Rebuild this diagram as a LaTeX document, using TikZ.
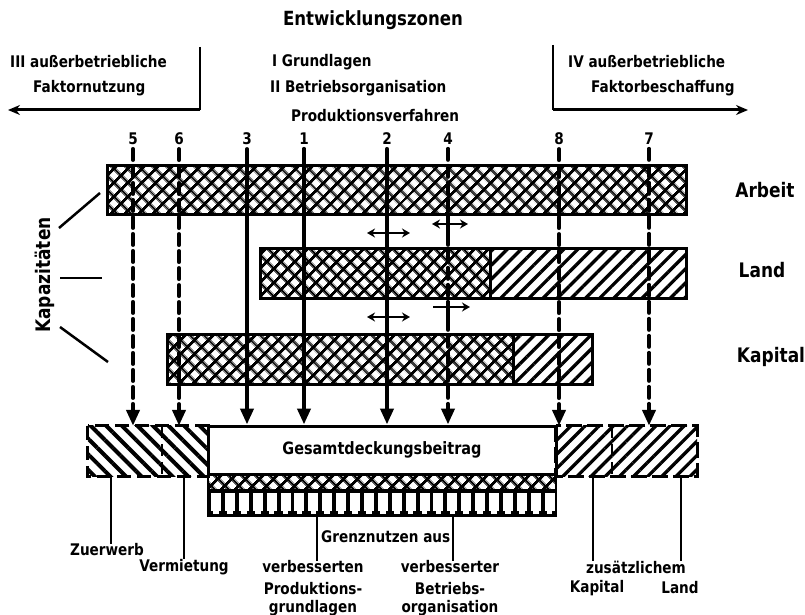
\documentclass[tikz,border=0pt]{standalone}
\usepackage{fontspec}
\setmainfont{DejaVu Sans}[FakeStretch=0.85]
\usetikzlibrary{arrows.meta,patterns.meta}
\begin{document}
\begin{tikzpicture}[x=1pt,y=-1pt,
  lbl/.style={font=\bfseries\fontsize{16}{18}\selectfont, inner sep=0pt},
  biglbl/.style={font=\bfseries\fontsize{20}{22}\selectfont, inner sep=0pt},
  num/.style={font=\bfseries\fontsize{16}{18}\selectfont, inner sep=0pt, outer sep=4pt},
  conn/.style={line width=4pt, line cap=round},
  dconn/.style={conn, dash pattern=on 11pt off 6pt},
  tipb/.style={-{Triangle[width=13pt,length=16pt]}},
  bar/.style={draw, line width=3pt},
  xh/.style={pattern={Hatch[angle=45,distance=10.5pt,line width=3pt]}},
  ne/.style={pattern={Lines[angle=45,distance=10pt,line width=3.3pt]}},
  nw/.style={pattern={Lines[angle=-45,distance=11pt,line width=4pt]}},
  thin/.style={line width=2.5pt},
  harr/.style={line width=2.5pt, {Stealth[length=8pt,width=9pt]}-{Stealth[length=8pt,width=9pt]}},
  rarr/.style={line width=2.5pt, -{Stealth[length=8pt,width=9pt]}},
  zarr/.style={line width=3pt, -{Stealth[length=12pt,width=10pt]}}
]
\useasboundingbox (0,0) rectangle (805,615);

% ---- top texts
\node[lbl,font=\bfseries\fontsize{19.5}{22}\selectfont] (title) at (373,20) {Entwicklungszonen};
\node[lbl,anchor=west] (t3a) at (10,62) {III außerbetriebliche};
\node[lbl,anchor=west] (t3b) at (33,88) {Faktornutzung};
\node[lbl,anchor=west] (t1) at (272,62) {I Grundlagen};
\node[lbl,anchor=west] (t2) at (270,88) {II Betriebsorganisation};
\node[lbl,anchor=west] (tp) at (291,116) {Produktionsverfahren};
\node[lbl,anchor=west] (t4a) at (568,62) {IV außerbetriebliche};
\node[lbl,anchor=west] (t4b) at (591,88) {Faktorbeschaffung};

\coordinate (lt) at (200,47); \coordinate (lb) at (200,110); \coordinate (le) at (8,110);
\coordinate (rt) at (553,45); \coordinate (rb) at (553,110); \coordinate (re) at (748,110);
\draw[thin] (lt) -- (lb);
\draw[zarr] (lb) -- (le);
\draw[thin] (rt) -- (rb);
\draw[zarr] (rb) -- (re);

% ---- numbers
\node[num] (n5) at (133,139) {5};
\node[num] (n6) at (179,139) {6};
\node[num] (n3) at (247,139) {3};
\node[num] (n1) at (304,139) {1};
\node[num] (n2) at (387,139) {2};
\node[num] (n4) at (448,139) {4};
\node[num] (n8) at (559,139) {8};
\node[num] (n7) at (649,139) {7};

% ---- capacity bars
\path[bar,xh] (107,165) rectangle (686,214);
\path[bar,xh] (260,248) rectangle (490,298);
\path[bar,ne] (490,248) rectangle (686,298);
\path[bar,xh] (167,334) rectangle (513,384);
\path[bar,ne] (513,334) rectangle (592,384);

\node[biglbl] (arbeit) at (765,190) {Arbeit};
\node[biglbl] (land) at (762,270) {Land};
\node[biglbl] (kapital) at (771,357) {Kapital};

\node[biglbl,rotate=90] (kap) at (45,275) {Kapazitäten};
\draw[thin] (59,228) -- (100,193);
\draw[thin] (60,278) -- (102,278);
\draw[thin] (60,327) -- (108,362);

% ---- bottom boxes
\node[minimum width=74pt, minimum height=50pt, inner sep=0pt] (zl) at (125,451) {};
\node[minimum width=46pt, minimum height=50pt, inner sep=0pt] (vm) at (185,451) {};
\path[nw] (zl.north west) rectangle (zl.south east);
\path[nw] (vm.north west) rectangle (vm.south east);
\draw[line width=3pt, dash pattern=on 14pt off 6pt] (zl.north west) rectangle (vm.south east);
\draw[line width=2pt, dash pattern=on 12pt off 6pt] (zl.north east) -- (zl.south east);

\node[draw, line width=3pt, fill=white, minimum width=348pt, minimum height=48pt, inner sep=0pt,
      font=\bfseries\fontsize{17}{19}\selectfont] (gb) at (382,450) {Gesamtdeckungsbeitrag};
\path[draw, line width=2.5pt, xh] (208,474) rectangle (556,490);
\fill (207,489) rectangle (557,517);
\foreach \i in {0,...,24} {
  \fill[white] ({211+13.9*\i},493) rectangle ({211+13.9*\i+10},511);
  \fill[white] ({211+13.9*\i+2.2},511) rectangle ({211+13.9*\i+7.8},513.5);
}

\node[minimum width=56pt, minimum height=50pt, inner sep=0pt] (rk) at (584,451) {};
\node[minimum width=85pt, minimum height=50pt, inner sep=0pt] (rl) at (654.5,451) {};
\path[ne] (rk.north west) rectangle (rk.south east);
\path[ne] (rl.north west) rectangle (rl.south east);
\draw[line width=3pt, dash pattern=on 16pt off 5pt] (rk.north west) rectangle (rl.south east);
\draw[line width=2pt, dash pattern=on 12pt off 6pt] (rk.north east) -- (rk.south east);

% ---- connectors
\draw[dconn,tipb] (n5.south) -- (n5.south |- zl.north);
\draw[dconn,tipb] (n6.south) -- (n6.south |- vm.north);
\draw[conn,tipb] (n3.south) -- (n3.south |- gb.north);
\draw[conn,tipb] (n1.south) -- (n1.south |- gb.north);
\draw[conn,tipb] (n2.south) -- (n2.south |- gb.north);
\draw[dconn,tipb] (n4.south) -- (n4.south |- gb.north);
\draw[dconn,tipb] (n8.south) -- (n8.south |- rk.north);
\draw[dconn,tipb] (n7.south) -- (n7.south |- rl.north);

% small horizontal arrows
\draw[harr] (367,233) -- (410,233);
\draw[harr] (367,317) -- (410,317);
\draw[harr] (432,224) -- (468,224);
\draw[line width=4pt] (448,224) -- (448,238);
\draw[rarr] (433,307) -- (470,307);
\draw[line width=4pt] (448,307) -- (448,322);

% ---- bottom labels
\node[lbl] (zu) at (107,550) {Zuerwerb};
\node[lbl] (ve) at (184,567) {Vermietung};
\coordinate (z1) at (111,476); \coordinate (v1) at (184,476);
\draw[thin] (z1) -- (z1 |- zu.north);
\draw[thin] (v1) -- (v1 |- ve.north);
\node[lbl,anchor=west] (gn) at (321,537) {Grenznutzen aus};
\node[lbl] (vp1) at (313,567) {verbesserten};
\node[lbl] (vp2) at (313,589) {Produktions-};
\node[lbl] (vp3) at (313,608) {grundlagen};
\node[lbl] (vb1) at (450,567) {verbesserter};
\node[lbl] (vb2) at (450,589) {Betriebs-};
\node[lbl] (vb3) at (450,608) {organisation};
\coordinate (g1) at (317,517); \coordinate (g2) at (453,517);
\draw[thin] (g1) -- (g1 |- vp1.north);
\draw[thin] (g2) -- (g2 |- vb1.north);
\node[lbl] (zus) at (636,567) {zusätzlichem};
\node[lbl] (kk) at (597,588) {Kapital};
\node[lbl] (ll) at (680,588) {Land};
\coordinate (k1) at (593,476); \coordinate (k2) at (681,476);
\draw[thin] (k1) -- (k1 |- zus.north);
\draw[thin] (k2) -- (k2 |- zus.north);
\end{tikzpicture}
\end{document}
